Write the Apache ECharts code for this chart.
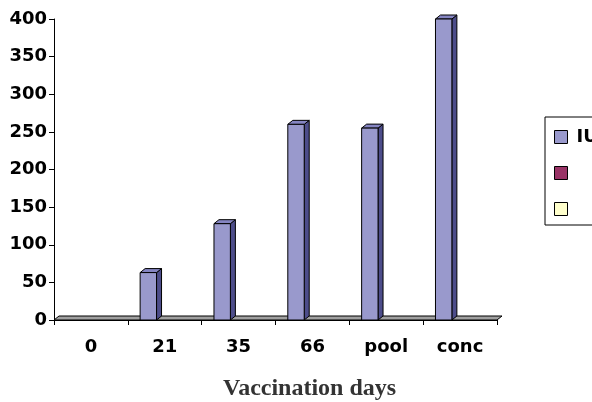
<!DOCTYPE html>
<html>
<head>
<meta charset="utf-8">
<script src="https://cdn.jsdelivr.net/npm/echarts@6/dist/echarts.min.js"></script>
<style>
html, body { margin: 0; padding: 0; background: #fff; }
#chart { width: 592px; height: 402px; }
</style>
</head>
<body>
<div id="chart"></div>
<script>
// categories and values
var days = ['0', '21', '35', '66', 'pool', 'conc'];
var iuValues = [0, 63, 128, 260, 255, 400];
var yTicks = [0, 50, 100, 150, 200, 250, 300, 350, 400];

var chart = echarts.init(document.getElementById('chart'));

var DX = 5, DY = -4; // depth of the 3D effect

// bar with front, side and top faces
function renderBar(params, api) {
    var v = api.value(1);
    if (!v) return;
    var c = api.coord([api.value(0), v]);
    var base = api.coord([api.value(0), 0]);
    var bw = api.size([1, 0])[0];
    var w = bw / 4.5;
    var x0 = c[0] - bw / 2 + 0.75 * w;
    var x1 = x0 + w;
    var top = c[1], bot = base[1];
    var line = { stroke: '#000', lineWidth: 1 };
    return {
        type: 'group',
        children: [{
            type: 'polygon',
            shape: { points: [[x1, bot], [x1 + DX, bot + DY], [x1 + DX, top + DY], [x1, top]] },
            style: Object.assign({ fill: '#4d4d8a' }, line)
        }, {
            type: 'polygon',
            shape: { points: [[x0, top], [x1, top], [x1 + DX, top + DY], [x0 + DX, top + DY]] },
            style: Object.assign({ fill: '#8585c2' }, line)
        }, {
            type: 'rect',
            shape: { x: x0, y: top, width: w, height: bot - top },
            style: Object.assign({ fill: '#9999cc' }, line)
        }]
    };
}

// floor under the bars
function renderFloor(params, api) {
    if (params.dataIndex !== 0) return;
    var first = api.coord([0, 0]);
    var bw = api.size([1, 0])[0];
    var xl = first[0] - bw / 2;
    var xr = xl + bw * days.length;
    var y = first[1];
    return {
        type: 'polygon',
        z2: -1,
        shape: { points: [[xl, y], [xr, y], [xr + DX, y + DY], [xl + DX, y + DY]] },
        style: { fill: '#a0a0a0', stroke: '#000', lineWidth: 1 }
    };
}

var option = {
    animation: false,
    grid: { left: 54, right: 95, top: 19, bottom: 82 },
    title: {
        text: 'Vaccination days',
        left: 218,
        top: 372,
        textStyle: { fontFamily: 'Liberation Serif', fontWeight: 'bold', fontSize: 24, color: '#333' }
    },
    legend: {
        orient: 'vertical',
        left: 545,
        top: 117,
        padding: [11, 30, 7, 9],
        itemGap: 18,
        itemWidth: 13,
        itemHeight: 13,
        icon: 'rect',
        borderColor: '#000',
        borderWidth: 1,
        itemStyle: { borderColor: '#000', borderWidth: 1 },
        textStyle: { fontFamily: 'DejaVu Sans', fontWeight: 'bold', fontSize: 18, lineHeight: 18, color: '#000', padding: [0, 0, 0, 4] },
        data: ['IU', ' ', '  ']
    },
    xAxis: {
        type: 'category',
        data: days,
        boundaryGap: true,
        axisLine: { lineStyle: { color: '#000', width: 1 } },
        axisTick: { show: true, length: 5, lineStyle: { color: '#000' } },
        axisLabel: { fontFamily: 'DejaVu Sans', fontWeight: 'bold', fontSize: 18, color: '#000', margin: 18 },
        splitLine: { show: false }
    },
    yAxis: {
        type: 'value',
        min: yTicks[0],
        max: yTicks[yTicks.length - 1],
        interval: yTicks[1] - yTicks[0],
        axisLine: { show: true, lineStyle: { color: '#000', width: 1 } },
        axisTick: { show: true, length: 5, lineStyle: { color: '#000' } },
        axisLabel: { fontFamily: 'DejaVu Sans', fontWeight: 'bold', fontSize: 18, color: '#000', margin: 7 },
        splitLine: { show: false }
    },
    series: [{
        name: 'floor',
        type: 'custom',
        renderItem: renderFloor,
        data: days.map(function (d, i) { return [i, 0]; }),
        z: 1,
        silent: true
    }, {
        name: 'IU',
        type: 'custom',
        renderItem: renderBar,
        itemStyle: { color: '#9999cc' },
        data: iuValues.map(function (v, i) { return [i, v]; }),
        z: 2
    }, {
        name: ' ',
        type: 'bar',
        itemStyle: { color: '#993366' },
        data: []
    }, {
        name: '  ',
        type: 'bar',
        itemStyle: { color: '#ffffcc' },
        data: []
    }]
};
chart.setOption(option);
</script>
</body>
</html>
